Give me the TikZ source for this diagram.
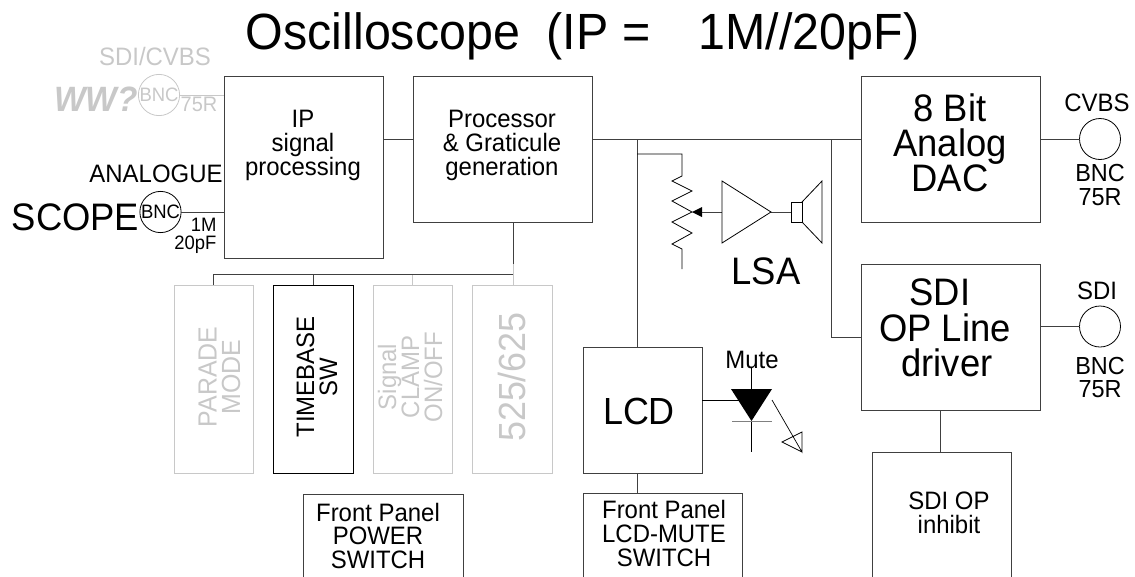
\documentclass[tikz,border=0pt]{standalone}
\usepackage{fontspec}
\setmainfont[FakeStretch=0.95,Scale=1.05]{Liberation Sans}
\usetikzlibrary{calc}
\definecolor{faint}{HTML}{C8C8C8}
\definecolor{wire}{HTML}{404040}
\newcommand{\fs}[2]{\fontsize{#1pt}{#2pt}\selectfont}
\tikzset{
  wirel/.style={draw=wire,line width=1pt},
  fwire/.style={draw=faint,line width=1pt},
  thin1/.style={draw=black,line width=0.8pt},
  boxn/.style={draw=wire,line width=1pt,inner sep=0,outer sep=0,rectangle},
  txt/.style={inner sep=0,outer sep=0,align=center},
  circ/.style={draw=black,line width=0.8pt,circle,inner sep=0,outer sep=0,minimum size=41pt},
}
\begin{document}
\begin{tikzpicture}[x=1pt,y=-1pt]
\useasboundingbox (0,0) rectangle (1135,576);
\clip (0,0) rectangle (1135,576);
% boxes
\node[boxn,minimum width=159,minimum height=182] (ip) at (303.5,167) {};
\node[boxn,minimum width=179,minimum height=146] (proc) at (502.5,149) {};
\node[boxn,minimum width=179,minimum height=146] (dac) at (950.5,149) {};
\node[boxn,minimum width=179,minimum height=146] (sdi) at (950.5,337) {};
\node[boxn,minimum width=139,minimum height=134] (inh) at (941.5,519) {};
\node[boxn,minimum width=119,minimum height=126] (lcd) at (642.5,410) {};
\node[boxn,minimum width=159,minimum height=91] (fplcd) at (662.5,538.5) {};
\node[boxn,minimum width=160,minimum height=93] (fppow) at (383,540.5) {};
\node[boxn,draw=faint,minimum width=79,minimum height=188] (par) at (213.5,379) {};
\node[boxn,draw=black,minimum width=80,minimum height=188] (tb) at (313,379) {};
\node[boxn,draw=faint,minimum width=79,minimum height=188] (clamp) at (412.5,379) {};
\node[boxn,draw=faint,minimum width=80,minimum height=188] (std) at (512,379) {};
% box text
\node[txt,font=\fs{24}{24}] (tip) at (303,145.5) {IP\\signal\\processing};
\node[txt,font=\fs{24}{24}] (tproc) at (502,145.5) {Processor\\\&\ Graticule\\generation};
\node[txt,font=\fs{36.5}{35}] (tdac) at (950,143) {8 Bit\\Analog\\DAC};
\node[txt,font=\fs{36.5}{35.5}] (tsdi) at (945,328) {SDI\hspace*{10pt}\\OP Line\\\hspace*{4pt}driver};
\node[txt,font=\fs{24}{24}] (tinh) at (949,513) {SDI OP\\inhibit};
\node[txt,font=\fs{36}{36}] (tlcd) at (639,411) {LCD};
\node[txt,font=\fs{24}{24}] (tfl) at (664,533) {Front Panel\\LCD-MUTE\\SWITCH};
\node[txt,font=\fs{24}{23.5}] (tfp) at (378,535.5) {Front Panel\\POWER\\SWITCH};
\node[txt,font=\fs{25}{23.5},text=faint,rotate=90] (tpar) at (219.5,377) {PARADE\\MODE};
\node[txt,font=\fs{24}{23},text=black,rotate=90] (ttb) at (317,377) {TIMEBASE\\SW};
\node[txt,font=\fs{24}{23},text=faint,rotate=90] (tcl) at (410,377) {Signal\\CLAMP\\ON/OFF};
\node[txt,font=\fs{36}{36},text=faint,rotate=90] (tstd) at (512,377) {525/625};
% title and loose labels
\node[txt,font=\fs{48.5}{48}] (title) at (582.5,36) {Oscilloscope\ \ (IP =\ \ \ \hspace{8pt}1M//20pF)};
\node[txt,font=\fs{24}{24},text=faint] (sc) at (155,56) {SDI/CVBS};
\node[txt,font=\fs{33.5}{32}\bfseries\itshape,text=faint] (ww) at (96,99) {WW?};
\node[circ,draw=faint,font=\fs{18.5}{20},text=faint] (bnc1) at (159,95) {BNC};
\node[txt,font=\fs{20}{20},text=faint] (r75) at (199,104) {75R};
\node[txt,font=\fs{24}{24}] (ana) at (156,174) {ANALOGUE};
\node[txt,font=\fs{36.5}{36}] (scope) at (75.5,217) {SCOPE};
\node[circ,font=\fs{18.5}{20}] (bnc2) at (160.5,212) {BNC};
\node[txt,font=\fs{18.5}{17.5},align=right,anchor=east] (rc) at (216.5,236) {1M\\20pF};
\node[circ] (bnc3) at (1100,139) {};
\node[circ] (bnc4) at (1100,326.5) {};
\node[txt,font=\fs{24}{24}] (cv) at (1097,102.5) {CVBS};
\node[txt,font=\fs{24}{24}] (sd) at (1097,290.5) {SDI};
\node[txt,font=\fs{23.5}{23.5}] (b3) at (1100,185) {BNC\\75R};
\node[txt,font=\fs{23.5}{23.5}] (b4) at (1100,377.5) {BNC\\75R};
\node[txt,font=\fs{36.5}{36}] (lsa) at (766,271) {LSA};
\node[txt,font=\fs{24}{24}] (mute) at (752,359.5) {Mute};
% connectors
\draw[fwire] (bnc1.east) -- (bnc1.east -| ip.west);
\draw[wirel] (bnc2.east) -- (bnc2.east -| ip.west);
\draw[wirel] (ip.east |- 0,139) -- (proc.west |- 0,139);
\draw[wirel] (proc.east |- 0,139) -- (dac.west |- 0,139);
\draw[wirel] (dac.east |- bnc3.west) -- (bnc3.west);
\draw[wirel] (sdi.east |- bnc4.west) -- (bnc4.west);
\draw[wirel] (940,410) -- (940,452);
\coordinate (j1) at (637,139);
\coordinate (j2) at (831,139);
\draw[wirel] (j1) -- (j1 |- lcd.north);
\draw[wirel] (j1 |- lcd.south) -- (j1 |- fplcd.north);
\draw[wirel] (j2) -- (831,337) -- (sdi.west |- 0,337);
% switch bus
\coordinate (b0) at (513,274);
\coordinate (p0) at (513,264);
\draw[fwire] (p0) -- (std.north -| p0);
\draw[fwire] (clamp.north |- b0) -- (clamp.north);
\draw[wirel] (proc.south -| p0) -- (p0);
\draw[wirel] (b0) -- (par.north |- b0) -- (par.north);
\draw[wirel] (tb.north |- b0) -- (tb.north);
% pot
\coordinate (pt) at (682,154);
\coordinate (pb) at (682,269);
\draw[line width=0.8pt] (637,154) -- (pt) -- (682,176) -- (672,181) -- (692,191) -- (672,201) -- (692,212) -- (672,222) -- (692,233) -- (672,244) -- (682,249) -- (pb);
\fill (692,212) -- (702,207) -- (702,217) -- cycle;
% amp and speaker
\coordinate (ampi) at (722,212);
\coordinate (ampo) at (771,212);
\coordinate (spk) at (791,212);
\draw[wirel] (702,212) -- (ampi);
\draw[wirel] (ampo) -- (spk);
\draw[line width=0.8pt] (ampi) -- (722,181) -- (ampo) -- (722,243) -- cycle;
\draw[line width=0.8pt] (791,202) rectangle (802,222);
\draw[line width=0.8pt] (802,202) -- (822,181) -- (822,243) -- (802,222);
% LED
\coordinate (ledt) at (751.5,389);
\coordinate (ledb) at (751.5,421);
\draw[thin1] (lcd.east |- 0,400) -- (740,400);
\draw[thin1] (751.5,368) -- (ledt);
\draw[thin1] (ledb) -- (751.5,452);
\fill (731,389) -- (772,389) -- (751.5,421) -- cycle;
\draw[draw=gray,line width=1pt] (732,421) -- (772,421);
\draw[line width=0.7pt] (772,400) -- (802,452) -- (802,432) -- (782,442) -- (802,452);
\end{tikzpicture}
\end{document}
